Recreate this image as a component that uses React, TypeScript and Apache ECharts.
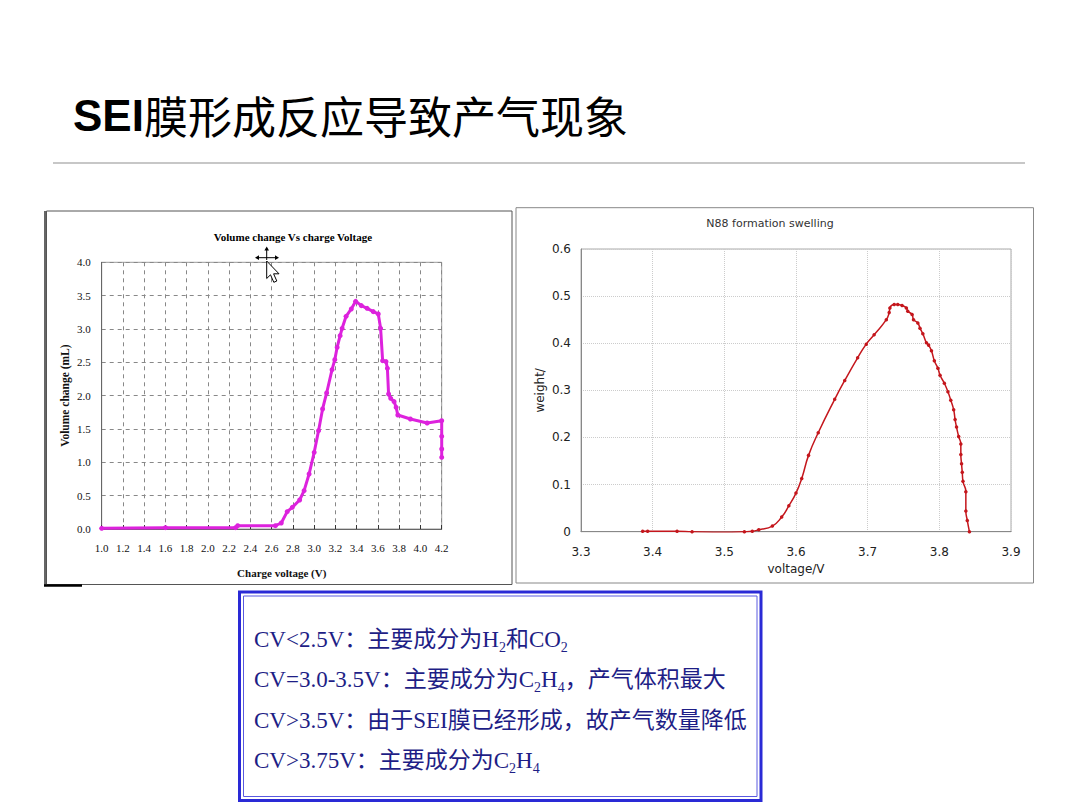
import React, { useEffect, useRef } from "react";
import * as echarts from "echarts";

// Left chart: Volume change vs charge voltage
const leftVoltage = [1.0, 1.6, 2.26, 2.28, 2.635, 2.69, 2.746, 2.794, 2.863, 2.905, 2.952, 3.0, 3.041, 3.079, 3.117, 3.168, 3.194, 3.216, 3.244, 3.263, 3.3, 3.349, 3.39, 3.444, 3.498, 3.556, 3.603, 3.625, 3.644, 3.676, 3.689, 3.7, 3.72, 3.752, 3.771, 3.787, 3.905, 4.063, 4.2, 4.2, 4.2, 4.2];
const leftVolume = [0.01, 0.02, 0.02, 0.05, 0.05, 0.09, 0.26, 0.325, 0.435, 0.575, 0.825, 1.15, 1.475, 1.8, 2.04, 2.39, 2.54, 2.725, 2.9, 3.01, 3.19, 3.3, 3.415, 3.35, 3.31, 3.26, 3.225, 3.01, 2.525, 2.51, 2.41, 2.025, 1.96, 1.91, 1.825, 1.71, 1.65, 1.59, 1.625, 1.39, 1.2, 1.075];

// Right chart: N88 formation swelling
const rightVoltage = [3.386, 3.393, 3.434, 3.455, 3.5, 3.528, 3.539, 3.548, 3.567, 3.58, 3.59, 3.6, 3.608, 3.6175, 3.631, 3.654, 3.668, 3.686, 3.698, 3.709, 3.726, 3.73, 3.731, 3.737, 3.742, 3.748, 3.754, 3.756, 3.762, 3.764, 3.77, 3.773, 3.777, 3.782, 3.785, 3.789, 3.793, 3.798, 3.801, 3.807, 3.812, 3.816, 3.82, 3.822, 3.824, 3.827, 3.83, 3.83, 3.831, 3.832, 3.833, 3.837, 3.837, 3.839, 3.842];
const rightWeight = [0.001, 0.001, 0.001, 0.0, -0.001, 0.0, 0.001, 0.004, 0.012, 0.031, 0.055, 0.082, 0.113, 0.162, 0.21, 0.281, 0.321, 0.369, 0.398, 0.418, 0.45, 0.465, 0.475, 0.482, 0.482, 0.48, 0.475, 0.468, 0.461, 0.45, 0.443, 0.432, 0.42, 0.401, 0.396, 0.384, 0.363, 0.347, 0.332, 0.315, 0.297, 0.279, 0.259, 0.238, 0.222, 0.202, 0.186, 0.164, 0.144, 0.126, 0.107, 0.085, 0.044, 0.024, 0.0];

const pageTitle = "{a|SEI}{b|膜形成反应导致产气现象}";
const leftTitle = "Volume change Vs charge Voltage";
const rightTitle = "N88 formation swelling";
const noteLines = [
  "CV<2.5V：主要成分为H{s|2}和CO{s|2}",
  "CV=3.0-3.5V：主要成分为C{s|2}H{s|4}，产气体积最大",
  "CV>3.5V：由于SEI膜已经形成，故产气数量降低",
  "CV>3.75V：主要成分为C{s|2}H{s|4}",
];

const serif = "'Liberation Serif', 'Times New Roman', serif";
const sans = "'DejaVu Sans', Verdana, sans-serif";
const cjkSerif = "'Liberation Serif', 'Noto Sans CJK SC', serif";

export default function App() {
  const ref = useRef<HTMLDivElement>(null);
  useEffect(() => {
    if (!ref.current) return;
    const chart = echarts.init(ref.current, undefined, { renderer: "svg" });
    const noteColor = "#1e1e86";
    const noteElems = noteLines.map((t, i) => ({
      type: "text",
      x: 254,
      y: 639 + i * 40.6,
      z: 50,
      style: {
        text: t,
        fontFamily: cjkSerif,
        fontSize: 23,
        lineHeight: 30,
        fill: noteColor,
        align: "left",
        verticalAlign: "middle",
        textAlign: "left",
        textVerticalAlign: "middle",
        rich: {
          s: { fontFamily: serif, fontSize: 14, fill: noteColor, color: noteColor, verticalAlign: "bottom" },
        },
      },
    }));

    const option: any = {
      animation: false,
      backgroundColor: "#ffffff",
      grid: [
        { left: 101.7, top: 262.3, width: 340, height: 266.7, show: true, borderColor: "#999", borderWidth: 1, backgroundColor: "transparent" },
        { left: 581, top: 249, width: 430, height: 282.7, show: true, borderColor: "#aaa", borderWidth: 1, backgroundColor: "transparent" },
      ],
      xAxis: [
        {
          type: "value", gridIndex: 0, min: 1.0, max: 4.2, interval: 0.2,
          name: "Charge voltage (V)", nameLocation: "middle", nameGap: 38,
          nameTextStyle: { fontFamily: serif, fontSize: 11, fontWeight: "bold", color: "#111", padding: [0, 0, 0, 20] },
          axisLine: { lineStyle: { color: "#666" } },
          axisTick: { show: true, inside: true, length: 4, lineStyle: { color: "#333" } },
          axisLabel: { formatter: (v: number) => v.toFixed(1), fontFamily: serif, fontSize: 11, color: "#111", margin: 13 },
          splitLine: { show: true, lineStyle: { color: "#888", type: [4, 4] } },
        },
        {
          type: "value", gridIndex: 1, min: 3.3, max: 3.9, interval: 0.1,
          name: "voltage/V", nameLocation: "middle", nameGap: 31,
          nameTextStyle: { fontFamily: sans, fontSize: 12, color: "#222" },
          axisLine: { lineStyle: { color: "#888" } },
          axisTick: { show: false },
          axisLabel: { formatter: (v: number) => v.toFixed(1), fontFamily: sans, fontSize: 12, color: "#222", margin: 14 },
          splitLine: { show: true, lineStyle: { color: "#ccc", type: "dotted" } },
        },
      ],
      yAxis: [
        {
          type: "value", gridIndex: 0, min: 0, max: 4, interval: 0.5,
          name: "Volume change (mL)", nameLocation: "middle", nameRotate: 90, nameGap: 31,
          nameTextStyle: { fontFamily: serif, fontSize: 11.5, fontWeight: "bold", color: "#111" },
          axisLine: { show: true, lineStyle: { color: "#666" } },
          axisTick: { show: false },
          axisLabel: { formatter: (v: number) => v.toFixed(1), fontFamily: serif, fontSize: 11, color: "#111", margin: 11 },
          splitLine: { show: true, lineStyle: { color: "#888", type: [4, 4] } },
        },
        {
          type: "value", gridIndex: 1, min: 0, max: 0.6, interval: 0.1,
          name: "weight/", nameLocation: "middle", nameRotate: 90, nameGap: 35,
          nameTextStyle: { fontFamily: sans, fontSize: 12, color: "#222" },
          axisLine: { show: true, lineStyle: { color: "#888" } },
          axisTick: { show: false },
          axisLabel: { formatter: (v: number) => (v === 0 ? "0" : v.toFixed(1)), fontFamily: sans, fontSize: 12, color: "#222", margin: 10 },
          splitLine: { show: true, lineStyle: { color: "#ccc", type: "dotted" } },
        },
      ],
      series: [
        {
          type: "line", xAxisIndex: 0, yAxisIndex: 0,
          data: leftVoltage.map((v, i) => [v, leftVolume[i]]),
          symbol: "circle", symbolSize: 5, showAllSymbol: true,
          lineStyle: { color: "#dd22dd", width: 3 },
          itemStyle: { color: "#dd22dd" },
        },
        {
          type: "line", xAxisIndex: 1, yAxisIndex: 1,
          data: rightVoltage.map((v, i) => [v, rightWeight[i]]),
          symbol: "circle", symbolSize: 3.5, showAllSymbol: true, smooth: 0.5,
          lineStyle: { color: "#c4161c", width: 1.5 },
          itemStyle: { color: "#c4161c" },
        },
      ],
      graphic: {
        elements: [
          {
            type: "text", x: 73, y: 115, z: 50,
            style: {
              text: pageTitle,
              verticalAlign: "middle", textVerticalAlign: "middle",
              rich: {
                a: { fontFamily: "'Liberation Sans', Arial, sans-serif", fontWeight: "bold", fontSize: 44, fill: "#000", color: "#000" },
                b: { fontFamily: "'Noto Sans CJK SC', sans-serif", fontSize: 44, fill: "#000", color: "#000" },
              },
            },
          },
          { type: "line", z: 50, shape: { x1: 53, y1: 163, x2: 1025, y2: 163 }, style: { stroke: "#b4b4b4", lineWidth: 1.5 } },
          // left panel frame
          { type: "rect", z: 40, shape: { x: 46.5, y: 211, width: 465.5, height: 373.5 }, style: { fill: "none", stroke: "#555", lineWidth: 1 } },
          { type: "line", z: 41, shape: { x1: 45, y1: 211, x2: 45, y2: 585 }, style: { stroke: "#333", lineWidth: 1.5 } },
          { type: "line", z: 41, shape: { x1: 44, y1: 585.5, x2: 82, y2: 585.5 }, style: { stroke: "#000", lineWidth: 2.5 } },
          // right panel frame
          { type: "rect", z: 40, shape: { x: 516, y: 207.7, width: 517.5, height: 375.3 }, style: { fill: "none", stroke: "#888", lineWidth: 1 } },
          {
            type: "text", x: 293, y: 237, z: 50,
            style: { text: leftTitle, fontFamily: serif, fontWeight: "bold", fontSize: 11, fill: "#000", align: "center", verticalAlign: "middle", textAlign: "center", textVerticalAlign: "middle" },
          },
          {
            type: "text", x: 770, y: 223, z: 50,
            style: { text: rightTitle, fontFamily: sans, fontSize: 11, fill: "#333", align: "center", verticalAlign: "middle", textAlign: "center", textVerticalAlign: "middle" },
          },
          // cursor artefact
          { type: "line", z: 60, shape: { x1: 257, y1: 257.7, x2: 277, y2: 257.7 }, style: { stroke: "#000", lineWidth: 1 } },
          { type: "line", z: 60, shape: { x1: 266.7, y1: 248, x2: 266.7, y2: 260 }, style: { stroke: "#000", lineWidth: 1 } },
          { type: "polygon", z: 60, shape: { points: [[255, 257.7], [259, 255.3], [259, 260.1]] }, style: { fill: "#000" } },
          { type: "polygon", z: 60, shape: { points: [[279, 257.7], [275, 255.3], [275, 260.1]] }, style: { fill: "#000" } },
          { type: "polygon", z: 60, shape: { points: [[266.7, 246.5], [264.4, 250.5], [269, 250.5]] }, style: { fill: "#000" } },
          {
            type: "polygon", z: 61,
            shape: { points: [[266.7, 261], [266.7, 278.5], [270.5, 274.8], [273.8, 282.3], [276.8, 281], [273.6, 273.8], [279, 273.8]] },
            style: { fill: "#fff", stroke: "#000", lineWidth: 1 },
          },
          // note box
          { type: "rect", z: 40, shape: { x: 239.5, y: 592, width: 521.5, height: 208.5 }, style: { fill: "#fff", stroke: "#2a2ad6", lineWidth: 3 } },
          { type: "rect", z: 41, shape: { x: 243.5, y: 596, width: 513.5, height: 200.5 }, style: { fill: "none", stroke: "#5a5ae0", lineWidth: 1 } },
          ...noteElems,
        ],
      },
    };
    chart.setOption(option);
    return () => chart.dispose();
  }, []);
  return <div ref={ref} style={{ position: "absolute", left: 0, top: 0, width: 1080, height: 809 }} />;
}
